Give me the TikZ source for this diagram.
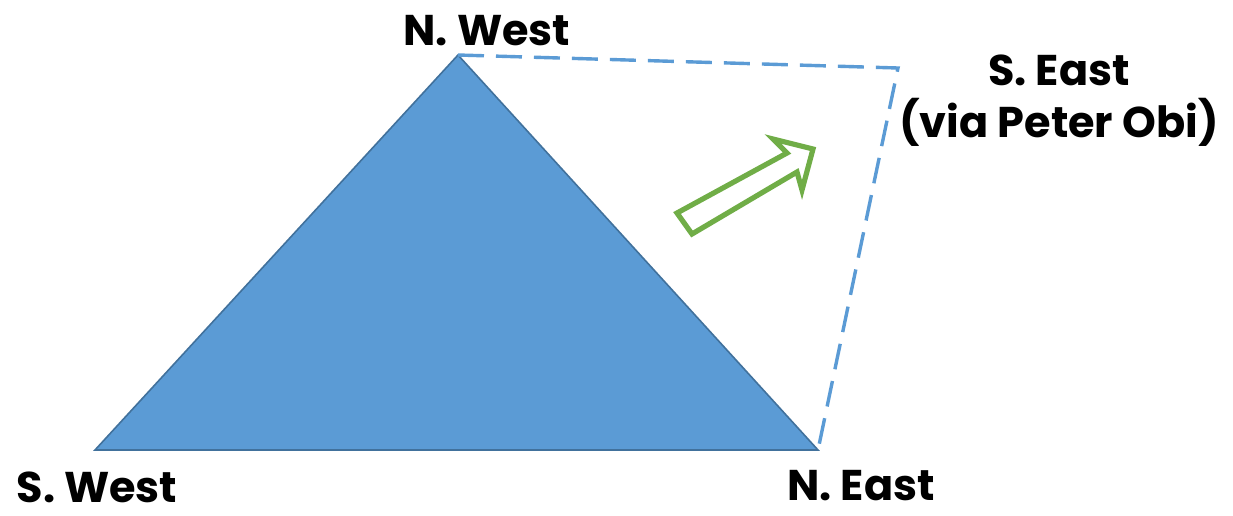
\documentclass[tikz,border=0pt]{standalone}
\usepackage{fontspec}
\setmainfont{Poppins}
\usepackage{tikz}
\usetikzlibrary{calc}
\definecolor{zoneblue}{RGB}{91,155,213}
\definecolor{zoneedge}{RGB}{65,113,156}
\definecolor{shiftgreen}{RGB}{112,173,71}

\begin{document}
\begin{tikzpicture}[x=.5pt,y=-.5pt,
  zonelabel/.style={font=\bfseries\fontsize{21.5}{26}\selectfont,align=center,inner sep=0pt}]
\useasboundingbox (0,0) rectangle (1233,515);
\coordinate (sw) at (95,450);
\coordinate (nw) at (458,55);
\coordinate (ne) at (818,450);
\coordinate (se) at (898,68);
\fill[zoneblue,draw=zoneedge,line width=.8pt] (sw) -- (nw) -- (ne) -- cycle;
\draw[zoneblue,line width=1.7pt,dash pattern=on 13pt off 6pt] (nw) -- (se) -- (ne);
\draw[shiftgreen,line width=2.6pt,line join=miter] (677,213) -- (787,153) -- (773,139) -- (813,149) -- (802,190) -- (797,172) -- (692,234) -- cycle;
\node[zonelabel] (lnw) at (487,31) {N. West};
\node[zonelabel] (lse) at (1059,101) {S. East\\(via Peter Obi)};
\node[zonelabel] (lsw) at (97,487) {S. West};
\node[zonelabel] (lne) at (861,486) {N. East};
\end{tikzpicture}
\end{document}
